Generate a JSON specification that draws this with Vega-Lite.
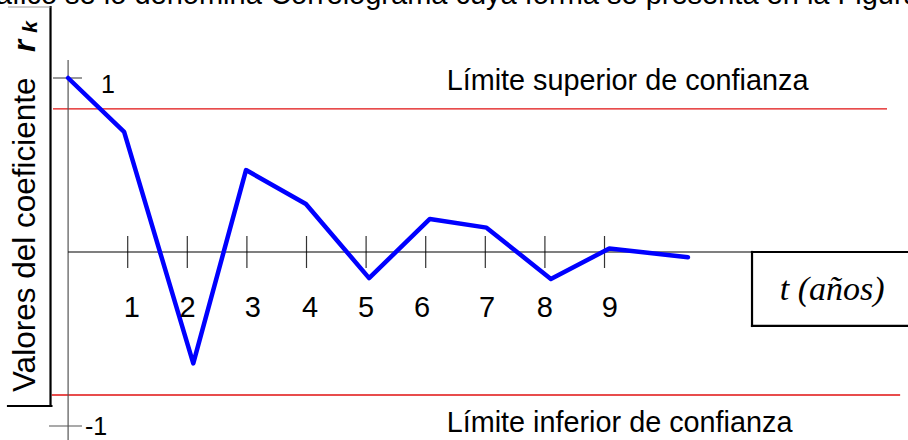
{
  "$schema": "https://vega.github.io/schema/vega-lite/v6.json",
  "width": 908,
  "height": 440,
  "padding": 0,
  "autosize": "none",
  "background": "white",
  "config": {"view": {"stroke": null}},
  "datasets": {
    "segs": [
      {"kind": "axis", "x": 0, "x2": 0, "y": -1.0805, "y2": 1.103},
      {"kind": "axis", "x": -0.253, "x2": 0.233, "y": 1, "y2": 1},
      {"kind": "axis", "x": -0.32, "x2": 0.233, "y": -1, "y2": -1},
      {"kind": "zero", "x": 0, "x2": 11.475, "y": 0, "y2": 0},
      {"kind": "tick", "x": 1, "x2": 1, "y": -0.092, "y2": 0.092},
      {"kind": "tick", "x": 2, "x2": 2, "y": -0.092, "y2": 0.092},
      {"kind": "tick", "x": 3, "x2": 3, "y": -0.092, "y2": 0.092},
      {"kind": "tick", "x": 4, "x2": 4, "y": -0.092, "y2": 0.092},
      {"kind": "tick", "x": 5, "x2": 5, "y": -0.092, "y2": 0.092},
      {"kind": "tick", "x": 6, "x2": 6, "y": -0.092, "y2": 0.092},
      {"kind": "tick", "x": 7, "x2": 7, "y": -0.092, "y2": 0.092},
      {"kind": "tick", "x": 8, "x2": 8, "y": -0.092, "y2": 0.092},
      {"kind": "tick", "x": 9, "x2": 9, "y": -0.092, "y2": 0.092},
      {"kind": "limit", "x": -0.253, "x2": 13.74, "y": 0.822, "y2": 0.822},
      {"kind": "limit", "x": -0.275, "x2": 13.96, "y": -0.822, "y2": -0.822},
      {"kind": "box", "x": 11.475, "x2": 14.2, "y": 0, "y2": 0},
      {"kind": "box", "x": 11.475, "x2": 11.475, "y": 0, "y2": -0.425},
      {"kind": "box", "x": 11.475, "x2": 14.2, "y": -0.425, "y2": -0.425},
      {"kind": "tbox", "x": -0.295, "x2": -0.295, "y": 1.408, "y2": -0.885},
      {"kind": "tbox", "x": -1.008, "x2": -0.28, "y": -0.885, "y2": -0.885},
      {"kind": "tboxtop", "x": -1.008, "x2": -0.295, "y": 1.408, "y2": 1.408}
    ],
    "corr": [
      {"k": 0, "r": 1},
      {"k": 0.94, "r": 0.69},
      {"k": 2.1, "r": -0.64},
      {"k": 2.985, "r": 0.471},
      {"k": 3.99, "r": 0.276},
      {"k": 5.05, "r": -0.15},
      {"k": 6.07, "r": 0.19},
      {"k": 7.02, "r": 0.14},
      {"k": 8.1, "r": -0.155},
      {"k": 9.08, "r": 0.02},
      {"k": 10.4, "r": -0.03}
    ],
    "xlabels": [
      {"x": 1.067, "y": -0.322, "t": "1"},
      {"x": 2.005, "y": -0.322, "t": "2"},
      {"x": 3.1, "y": -0.322, "t": "3"},
      {"x": 4.06, "y": -0.322, "t": "4"},
      {"x": 5.0, "y": -0.322, "t": "5"},
      {"x": 5.94, "y": -0.322, "t": "6"},
      {"x": 7.03, "y": -0.322, "t": "7"},
      {"x": 8.0, "y": -0.322, "t": "8"},
      {"x": 9.09, "y": -0.322, "t": "9"}
    ],
    "ylabels": [
      {"x": 0.55, "y": 0.96, "t": "1"},
      {"x": 0.284, "y": -1.006, "t": "-1"}
    ],
    "limits": [
      {"x": 6.352, "y": 0.983, "t": "Límite superior de confianza"},
      {"x": 6.352, "y": -0.983, "t": "Límite inferior de confianza"}
    ],
    "unit": [
      {"x": 12.82, "y": -0.218, "t": "t (años)"}
    ],
    "ytitle": [
      {"x": -0.555, "y": -0.805, "t": "Valores del coeficiente"}
    ],
    "ytitler": [
      {"x": -0.555, "y": 1.15, "t": "r"}
    ],
    "ytitlek": [
      {"x": -0.515, "y": 1.26, "t": "k"}
    ],
    "toptextL": [
      {"x": 3.25, "y": 1.425, "t": "gráfico se lo denomina"}
    ],
    "toptextR": [
      {"x": 3.39, "y": 1.425, "t": "Correlograma cuya forma se presenta en la Figura"}
    ]
  },
  "encoding": {
    "x": {"field": "x", "type": "quantitative", "scale": {"domain": [-1.1426, 14.092], "nice": false, "zero": false}, "axis": null},
    "y": {"field": "y", "type": "quantitative", "scale": {"domain": [-1.0805, 1.4483], "nice": false, "zero": false}, "axis": null}
  },
  "layer": [
    {
      "data": {"name": "segs"},
      "transform": [{"filter": "datum.kind === 'limit'"}],
      "mark": {"type": "rule", "color": "#e01010", "strokeWidth": 1.3},
      "encoding": {"x2": {"field": "x2"}, "y2": {"field": "y2"}}
    },
    {
      "data": {"name": "segs"},
      "transform": [{"filter": "datum.kind === 'axis'"}],
      "mark": {"type": "rule", "color": "#555555", "strokeWidth": 1.2},
      "encoding": {"x2": {"field": "x2"}, "y2": {"field": "y2"}}
    },
    {
      "data": {"name": "segs"},
      "transform": [{"filter": "datum.kind === 'tick'"}],
      "mark": {"type": "rule", "color": "#333333", "strokeWidth": 1.2},
      "encoding": {"x2": {"field": "x2"}, "y2": {"field": "y2"}}
    },
    {
      "data": {"name": "segs"},
      "transform": [{"filter": "datum.kind === 'zero'"}],
      "mark": {"type": "rule", "color": "#000000", "strokeWidth": 1.2},
      "encoding": {"x2": {"field": "x2"}, "y2": {"field": "y2"}}
    },
    {
      "data": {"name": "segs"},
      "transform": [{"filter": "datum.kind === 'box' || datum.kind === 'tbox'"}],
      "mark": {"type": "rule", "color": "#000000", "strokeWidth": 2.2, "strokeCap": "square"},
      "encoding": {"x2": {"field": "x2"}, "y2": {"field": "y2"}}
    },
    {
      "data": {"name": "segs"},
      "transform": [{"filter": "datum.kind === 'tboxtop'"}],
      "mark": {"type": "rule", "color": "#999999", "strokeWidth": 1},
      "encoding": {"x2": {"field": "x2"}, "y2": {"field": "y2"}}
    },
    {
      "data": {"name": "corr"},
      "mark": {"type": "line", "color": "#0000ff", "strokeWidth": 4.5, "strokeJoin": "round", "strokeCap": "round"},
      "encoding": {
        "x": {"field": "k", "type": "quantitative"},
        "y": {"field": "r", "type": "quantitative"}
      }
    },
    {
      "data": {"name": "xlabels"},
      "mark": {"type": "text", "font": "Liberation Sans", "fontSize": 29, "align": "center", "baseline": "middle", "color": "#000000"},
      "encoding": {"text": {"field": "t"}}
    },
    {
      "data": {"name": "ylabels"},
      "mark": {"type": "text", "font": "Liberation Sans", "fontSize": 25, "align": "left", "baseline": "middle", "color": "#000000"},
      "encoding": {"text": {"field": "t"}}
    },
    {
      "data": {"name": "limits"},
      "mark": {"type": "text", "font": "Liberation Sans", "fontSize": 28.8, "align": "left", "baseline": "middle", "color": "#000000"},
      "encoding": {"text": {"field": "t"}}
    },
    {
      "data": {"name": "unit"},
      "mark": {"type": "text", "font": "Liberation Serif", "fontStyle": "italic", "fontSize": 34, "align": "center", "baseline": "middle", "color": "#000000"},
      "encoding": {"text": {"field": "t"}}
    },
    {
      "data": {"name": "ytitle"},
      "mark": {"type": "text", "font": "Liberation Sans", "fontSize": 31.5, "angle": 270, "align": "left", "baseline": "alphabetic", "color": "#000000"},
      "encoding": {"text": {"field": "t"}}
    },
    {
      "data": {"name": "ytitler"},
      "mark": {"type": "text", "font": "Liberation Sans", "fontSize": 31, "fontWeight": "bold", "fontStyle": "italic", "angle": 270, "align": "left", "baseline": "alphabetic", "color": "#000000"},
      "encoding": {"text": {"field": "t"}}
    },
    {
      "data": {"name": "ytitlek"},
      "mark": {"type": "text", "font": "Liberation Sans", "fontSize": 21, "fontWeight": "bold", "fontStyle": "italic", "angle": 270, "align": "left", "baseline": "alphabetic", "color": "#000000"},
      "encoding": {"text": {"field": "t"}}
    },
    {
      "data": {"name": "toptextL"},
      "mark": {"type": "text", "font": "Liberation Sans", "fontSize": 29, "align": "right", "baseline": "alphabetic", "color": "#000000"},
      "encoding": {"text": {"field": "t"}}
    },
    {
      "data": {"name": "toptextR"},
      "mark": {"type": "text", "font": "Liberation Sans", "fontSize": 29, "align": "left", "baseline": "alphabetic", "color": "#000000"},
      "encoding": {"text": {"field": "t"}}
    }
  ]
}
